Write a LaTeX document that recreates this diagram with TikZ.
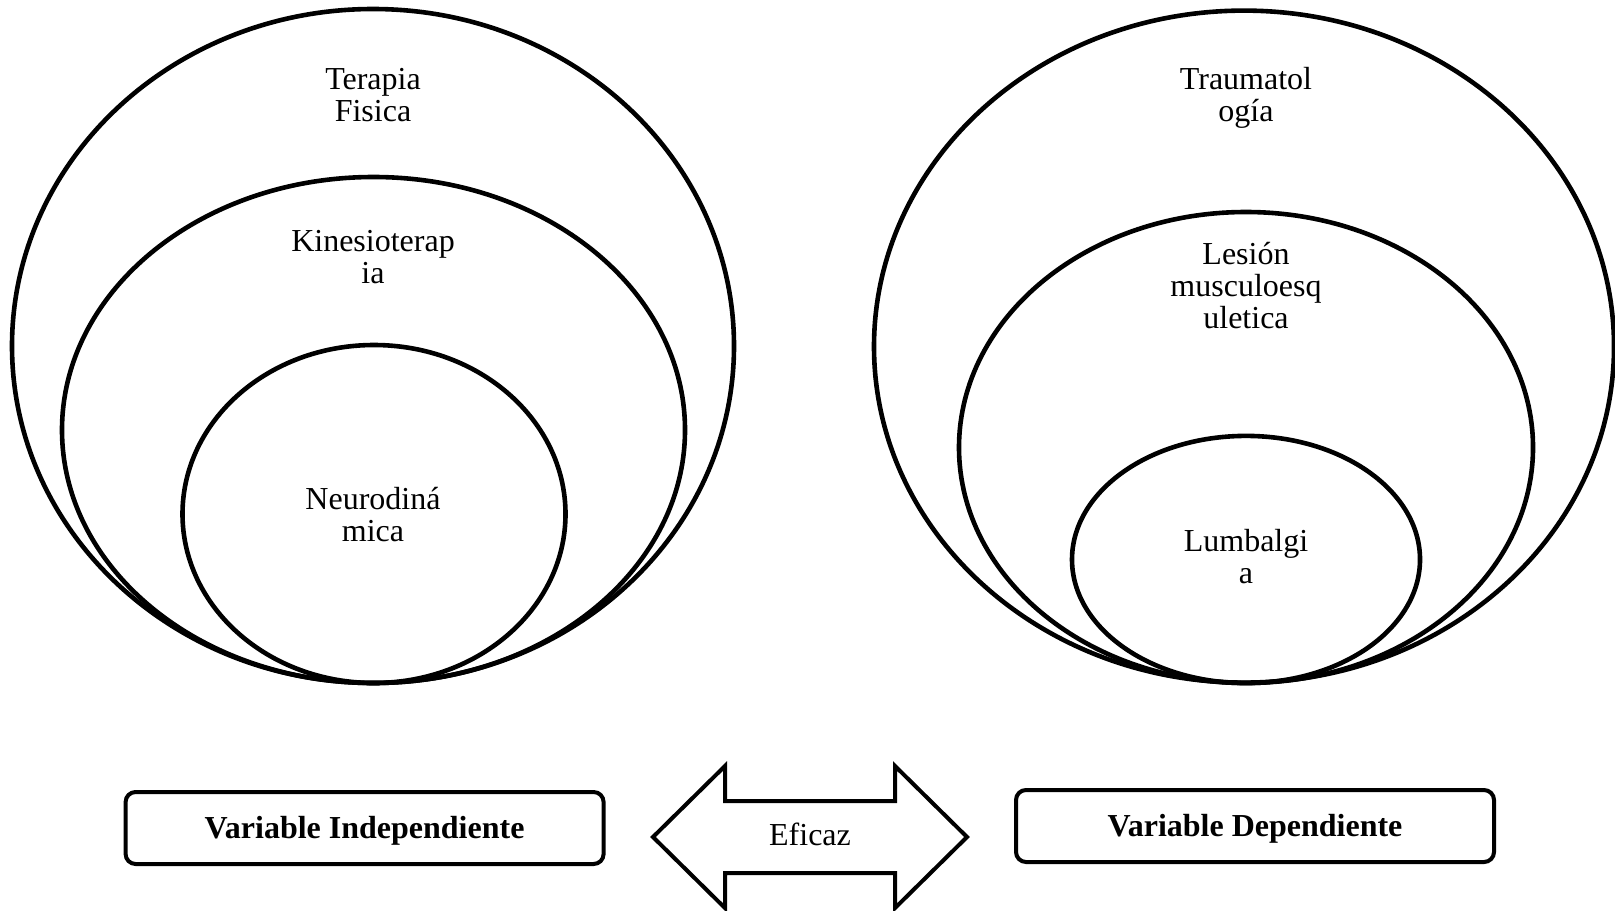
\documentclass[tikz,border=0pt]{standalone}
\usepackage{fontspec}
\setmainfont{Liberation Serif}
\begin{document}
\begin{tikzpicture}[x=0.5pt,y=-0.5pt,
  ring/.style={line width=2.3pt},
  lbl/.style={font=\fontsize{16}{16}\selectfont, align=center, inner sep=0pt},
  varbox/.style={draw, line width=2pt, rounded corners=5pt, minimum width=239pt, minimum height=36pt, font=\fontsize{16}{16}\selectfont\bfseries, inner sep=0pt, text height=14pt, text depth=3.4pt},
  dblarrow/.style={line width=2pt, line join=miter}]
\useasboundingbox (0,0) rectangle (1615,910);
\fill[white] (0,0) rectangle (1615,910);
% left set
\draw[ring] (373,346) ellipse [x radius=361, y radius=337];
\draw[ring] (373.5,430) ellipse [x radius=311.5, y radius=253];
\draw[ring] (374,514) ellipse [x radius=191.5, y radius=169];
\node[lbl] (tf) at (373,95) {Terapia\\Fisica};
\node[lbl] (kt) at (373,257) {Kinesioterap\\ia};
\node[lbl] (nd) at (373,515) {Neurodiná\\mica};
% right set
\draw[ring] (1244,346.6) ellipse [x radius=370, y radius=336];
\draw[ring] (1246,447.5) ellipse [x radius=287, y radius=235.5];
\draw[ring] (1246,559.5) ellipse [x radius=174, y radius=123.6];
\node[lbl] (tr) at (1246,97.5) {Traumatol\\ogía};
\node[lbl] (lm) at (1246,285.5) {Lesión\\musculoesq\\uletica};
\node[lbl] (lb) at (1246,557) {Lumbalgi\\a};
% boxes
\node[varbox] (vi) at (364.6,828) {Variable Independiente};
\node[varbox] (vd) at (1255,826) {Variable Dependiente};
% double arrow
\coordinate (tipL) at (653,837);
\coordinate (tipR) at (967,837);
\draw[dblarrow] (tipL) -- (725,766) -- (725,801) -- (895,801) -- (895,766) -- (tipR)
  -- (895,908) -- (895,873) -- (725,873) -- (725,908) -- cycle;
\node[lbl] (ef) at (810,834) {Eficaz};
\end{tikzpicture}
\end{document}
